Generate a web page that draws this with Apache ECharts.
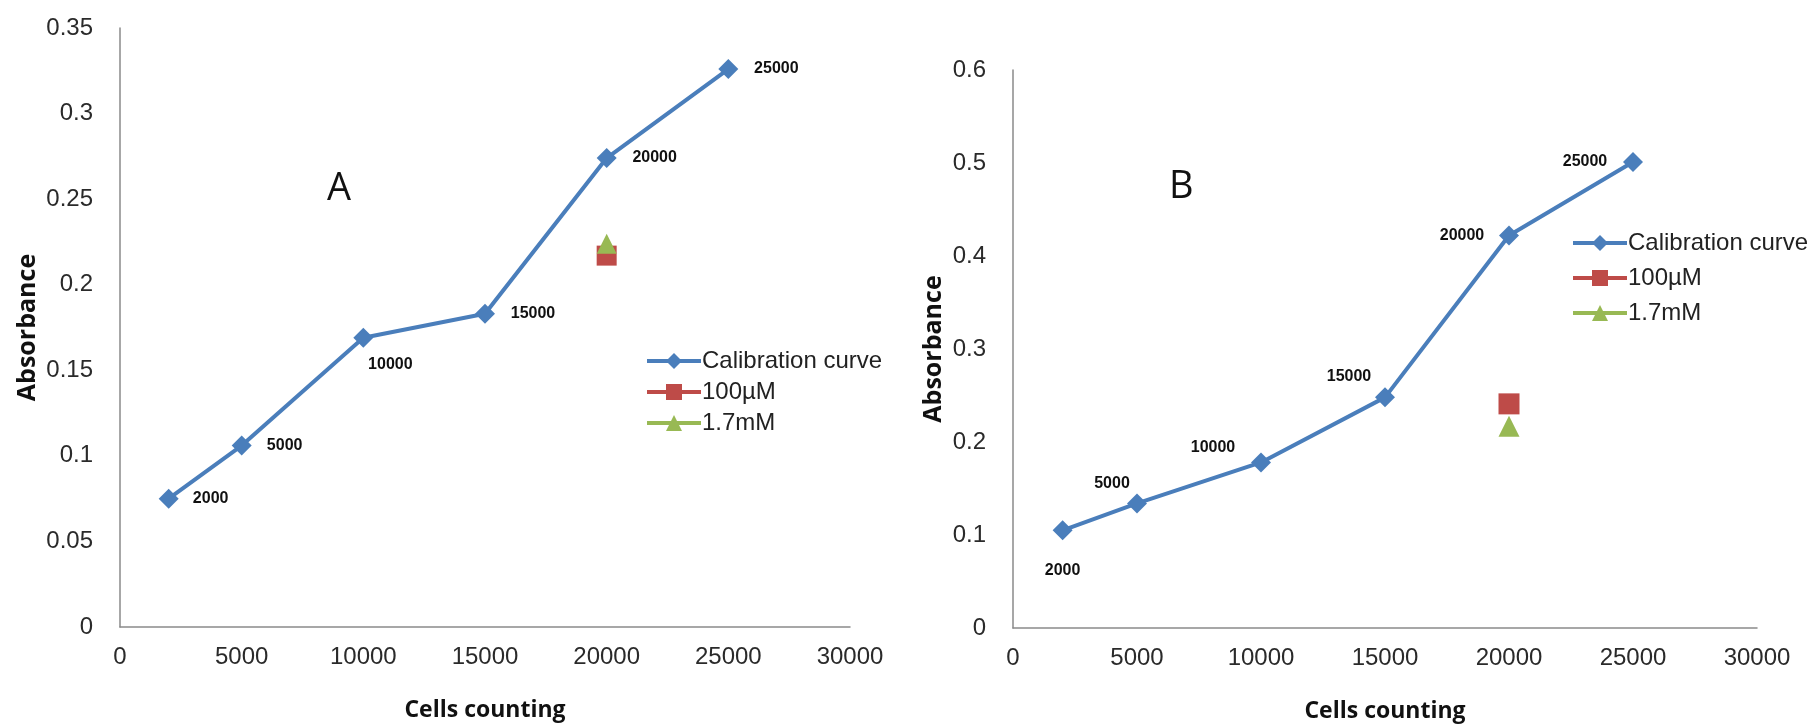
<!DOCTYPE html>
<html><head><meta charset="utf-8">
<script src="https://cdn.jsdelivr.net/npm/echarts@6/dist/echarts.min.js"></script>
<style>html,body{margin:0;padding:0;background:#fff}#c{width:1814px;height:728px}</style>
</head><body><div id="c"></div>
<script>
const cells = [2000, 5000, 10000, 15000, 20000, 25000];
const calibA = [0.075, 0.106, 0.169, 0.183, 0.274, 0.326];
const calibB = [0.105, 0.134, 0.178, 0.248, 0.422, 0.501];
const sampleX = 20000;
const uM100A = 0.217, mM17A = 0.224;
const uM100B = 0.241, mM17B = 0.217;
const seriesNames = ['Calibration curve', '100µM', '1.7mM'];
const panelLetters = ['A', 'B'];

// label offsets (relative to each point, label centred)
const labelOffA = [[42,0],[43,0],[27,27],[48,0],[48,0],[48,0]];
const labelOffB = [[0,40],[-25,-20],[-48,-15],[-36,-21],[-47,0],[-48,0]];

const FONT = '"Liberation Sans",sans-serif';
const BLUE = '#4a7ebb', RED = '#be4b48', GREEN = '#98b954';

const chart = echarts.init(document.getElementById('c'));

function xAxis(gi){
  return {gridIndex:gi, type:'value', min:0, max:30000, interval:5000,
    name:'Cells counting', nameLocation:'middle', nameGap:72,
    nameTextStyle:{fontFamily:'"Open Sans",sans-serif', fontWeight:'bold', fontSize:23, color:'#111'},
    axisLine:{show:true, lineStyle:{color:'#8a8a8a', width:1.5}}, axisTick:{show:false},
    splitLine:{show:false}, axisLabel:{fontFamily:FONT, fontSize:24, color:'#2a2a2a', margin:18, formatter:v=>String(v)}};
}
function yAxis(gi,max,interval,gap){
  return {gridIndex:gi, type:'value', min:0, max:max, interval:interval,
    name:'Absorbance', nameLocation:'middle', nameGap:gap, nameRotate:90,
    nameTextStyle:{fontFamily:'"Open Sans",sans-serif', fontWeight:'bold', fontSize:25, color:'#111'},
    axisLine:{show:true, lineStyle:{color:'#8a8a8a', width:1.5}}, axisTick:{show:false},
    splitLine:{show:false}, axisLabel:{fontFamily:FONT, fontSize:24, color:'#2a2a2a', margin:27}};
}
function calibData(vals, off){
  return cells.map((c,i)=>({value:[c, vals[i]], label:{offset:off[i]}}));
}
function calibSeries(gi, vals, off){
  return {name:seriesNames[0], type:'line', xAxisIndex:gi, yAxisIndex:gi,
    data:calibData(vals,off), symbol:'diamond', symbolSize:20,
    lineStyle:{color:BLUE, width:4}, itemStyle:{color:BLUE},
    label:{show:true, position:'inside', align:'center', verticalAlign:'middle', formatter:p=>String(p.value[0]),
      fontFamily:FONT, fontWeight:'bold', fontSize:16, color:'#111'}};
}
function sampleSeries(gi, name, val, sym, color, size){
  return {name:name, type:'line', xAxisIndex:gi, yAxisIndex:gi, data:[[sampleX, val]],
    symbol:sym, symbolSize:size, lineStyle:{color:color, width:4}, itemStyle:{color:color}, z:3};
}
function legend(left, top, gap){
  return {left:left, top:top, orient:'vertical', itemGap:gap, itemWidth:54, itemHeight:20,
    lineStyle:{width:4},
    textStyle:{fontFamily:FONT, fontSize:24, color:'#222', padding:[0,0,0,-4]},
    data:seriesNames};
}

chart.setOption({
  animation:false,
  backgroundColor:'#fff',
  grid:[{left:120, right:964, top:28, bottom:101},
        {left:1013, right:57, top:70, bottom:100}],
  xAxis:[xAxis(0), xAxis(1)],
  yAxis:[yAxis(0,0.35,0.05,80), yAxis(1,0.6,0.1,67)],
  legend:[legend(640, 344, 7), legend(1566, 226, 11)],
  graphic:[
    {type:'text', left:327, top:170, style:{text:panelLetters[0], font:'38px "Open Sans",sans-serif', fill:'#111'}},
    {type:'text', left:1169, top:168, style:{text:panelLetters[1], font:'38px "Open Sans",sans-serif', fill:'#111'}}
  ],
  series:[
    calibSeries(0, calibA, labelOffA),
    sampleSeries(0, seriesNames[1], uM100A, 'rect', RED, 20),
    sampleSeries(0, seriesNames[2], mM17A, 'triangle', GREEN, 20),
    calibSeries(1, calibB, labelOffB),
    sampleSeries(1, seriesNames[1], uM100B, 'rect', RED, 21),
    sampleSeries(1, seriesNames[2], mM17B, 'triangle', GREEN, 21)
  ]
});
</script></body></html>
